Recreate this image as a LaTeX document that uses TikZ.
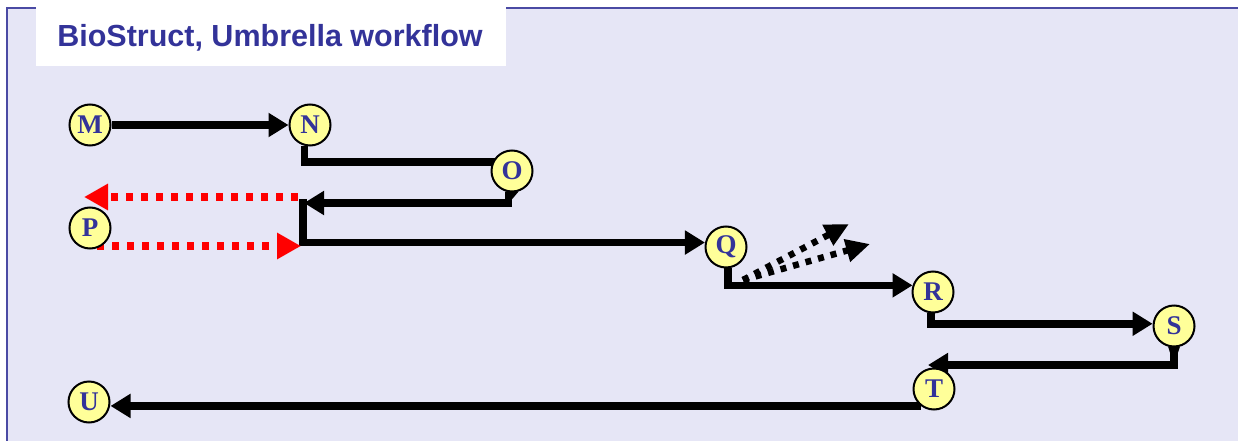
\documentclass[tikz,border=0pt]{standalone}
\usepackage{fontspec}
\setmainfont{Liberation Serif}
\newfontfamily\titlefont{Liberation Sans}
\usetikzlibrary{arrows.meta,calc}
\definecolor{bgl}{HTML}{E6E6F6}
\definecolor{ink}{HTML}{333399}
\definecolor{ylw}{HTML}{FFFF99}
\definecolor{frame}{HTML}{4A4AA4}
\pgfdeclarelayer{back}\pgfdeclarelayer{wires}\pgfsetlayers{back,wires,main}
\begin{document}
\begin{tikzpicture}[x=1pt,y=-1pt,
 nd/.style={circle,draw=black,line width=2pt,fill=ylw,minimum size=41pt,inner sep=0pt,text=ink,font=\fontsize{27}{27}\selectfont\bfseries},
 conn/.style={line width=7.5pt,-{Triangle[length=20pt,width=23pt]}},
 wire/.style={line width=7.5pt},
 reddot/.style={red,line width=7.5pt,dash pattern=on 7pt off 8pt,-{Triangle[length=24pt,width=25pt]}},
 blkdot/.style={line width=6.5pt,dash pattern=on 6pt off 7pt,-{Triangle[length=24pt,width=22pt]}},
 tail/.style={fill=black},
 titlebox/.style={fill=white,draw=none},
 titletext/.style={text=ink,font=\titlefont\fontsize{30.5}{34}\selectfont\bfseries,inner sep=0pt,anchor=base}]
\useasboundingbox (0,0) rectangle (1238,441);
\begin{pgfonlayer}{back}
 \fill[white] (0,0) rectangle (1238,441);
 \fill[bgl] (7,8) rectangle (1238,441);
 \draw[frame,line width=2pt] (7,441) -- (7,8) -- (1238,8);
 \fill[titlebox] (36,7) rectangle (506,66);
\end{pgfonlayer}
\node[titletext] (title) at (270,47) {BioStruct, Umbrella workflow};

\node[nd] (M) at (90,125) {M};
\node[nd] (N) at (310,125) {N};
\node[nd] (O) at (512,171) {O};
\node[nd] (P) at (90,228) {P};
\node[nd] (Q) at (726,247) {Q};
\node[nd] (R) at (933,292) {R};
\node[nd] (S) at (1174,326) {S};
\node[nd] (T) at (934,389) {T};
\node[nd] (U) at (89,402) {U};

\coordinate (J1) at (304,203);
\coordinate (J2) at (303,199);
\coordinate (RA) at (298,197);
\coordinate (RB) at (84,197);
\coordinate (RC) at (97,246);
\coordinate (RD) at (301,246);
\coordinate (QD) at (743,280);
\coordinate (QE) at (849,224);
\coordinate (QF) at (870,244);

\begin{pgfonlayer}{wires}
 \draw[conn] (M) -- (N);
 \draw[wire] (N.-105) |- ($(O.center)+(0,-9)$);
 \fill[tail] (O.-108) -- (O.-72) -- ($(O.center)+(-4,33)$) -- cycle;
 \draw[conn] (O.-100) |- (J1);
 \draw[conn] (J2) |- (Q.168);
 \draw[reddot] (RA) -- (RB);
 \draw[reddot] (RC) -- (RD);
 \draw[conn] (Q.-85) |- (R.162);
 \draw[blkdot] (QD) -- (QE);
 \draw[blkdot] (QD) -- (QF);
 \draw[conn] (R.-95) |- (S.174);
 \fill[tail] (S.-106) -- (S.-74) -- ($(S.center)+(0,39)$) -- cycle;
 \draw[conn] (S.-90) |- ($(T.center)+(-6,-24)$);
 \draw[conn] (T.-128) -- (T.-128 -| U.east);
\end{pgfonlayer}
\end{tikzpicture}
\end{document}
